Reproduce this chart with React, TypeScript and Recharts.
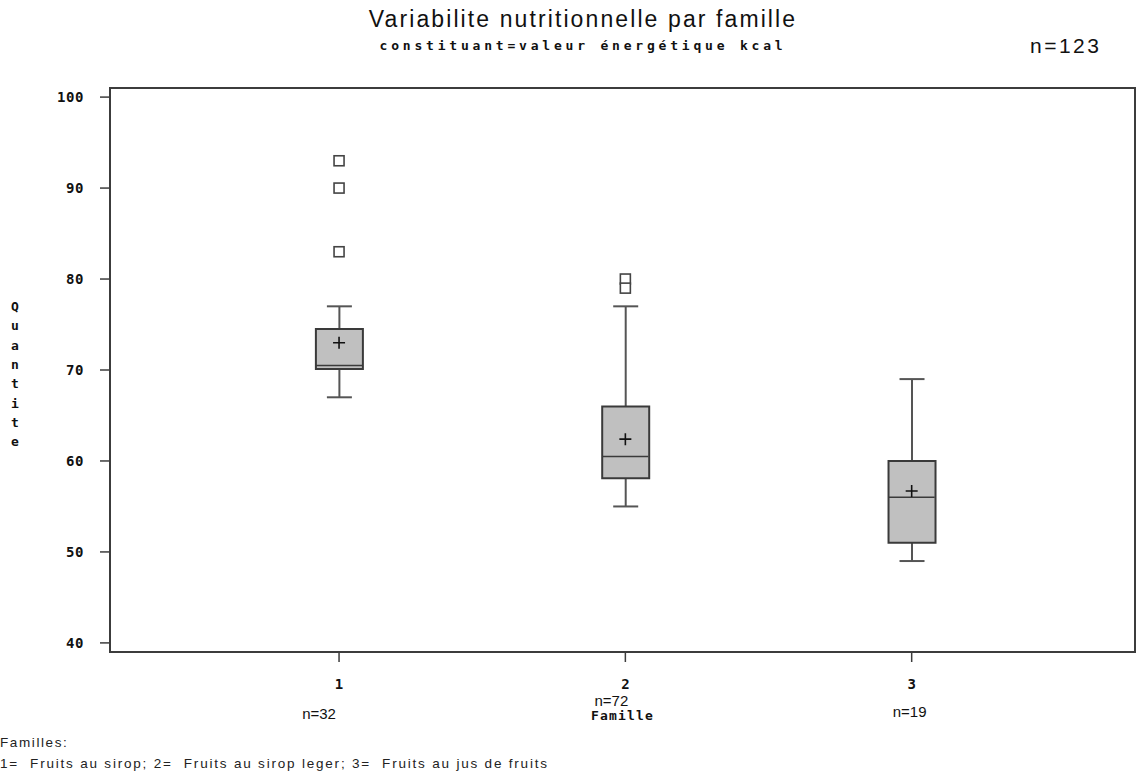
import React from 'react';
import { ComposedChart, Bar, Scatter, XAxis, YAxis, ReferenceArea } from 'recharts';

const categories = [1, 2, 3];
const counts = [32, 72, 19];
const whiskerLow = [67, 55, 49];
const q1 = [70.1, 58.1, 51];
const medians = [70.5, 60.5, 56];
const q3 = [74.5, 66, 60];
const whiskerHigh = [77, 77, 69];
const means = [73, 62.4, 56.7];
const outlierCategory = [1, 1, 1, 2, 2];
const outlierValue = [93, 90, 83, 80, 79];
const yTicks = [40, 50, 60, 70, 80, 90, 100];
const totalN = 123;
const titleText = 'Variabilite nutritionnelle par famille';
const subtitleText = 'constituant=valeur énergétique kcal';
const xAxisTitle = 'Famille';
const yAxisTitle = 'Quantite';
const legendTitle = 'Familles:';
const legendText = '1=  Fruits au sirop; 2=  Fruits au sirop leger; 3=  Fruits au jus de fruits';

const data = categories.map((c, i) => ({
  x: c,
  box: [q1[i], q3[i]],
  upper: [q3[i], whiskerHigh[i]],
  lower: [whiskerLow[i], q1[i]],
  median: medians[i],
  mean: means[i],
}));
const outliers = outlierCategory.map((c, i) => ({ x: c, value: outlierValue[i] }));

const X_DOMAIN: [number, number] = [0.2, 3.78];
const Y_DOMAIN: [number, number] = [39, 101];
const AXIS_COLOR = '#3c3c3c';
const MONO = '"DejaVu Sans Mono", monospace';
const SANS = '"Liberation Sans", Arial, sans-serif';

const UpperWhisker = (p: any) => {
  const cx = p.x + p.width / 2;
  return (
    <g>
      <line x1={cx} y1={p.y} x2={cx} y2={p.y + p.height} stroke="#555" strokeWidth={2} />
      <line x1={p.x} y1={p.y} x2={p.x + p.width} y2={p.y} stroke="#555" strokeWidth={2} />
    </g>
  );
};
const LowerWhisker = (p: any) => {
  const cx = p.x + p.width / 2;
  const yb = p.y + p.height;
  return (
    <g>
      <line x1={cx} y1={p.y} x2={cx} y2={yb} stroke="#555" strokeWidth={2} />
      <line x1={p.x} y1={yb} x2={p.x + p.width} y2={yb} stroke="#555" strokeWidth={2} />
    </g>
  );
};
const MedianShape = (p: any) => (
  <line x1={p.cx - 23} y1={p.cy} x2={p.cx + 23} y2={p.cy} stroke="#3a3a3a" strokeWidth={1.5} />
);
const MeanShape = (p: any) => (
  <path d={`M${p.cx - 6},${p.cy}h12M${p.cx},${p.cy - 6}v12`} stroke="#111" strokeWidth={1.6} fill="none" />
);
const OutlierShape = (p: any) => (
  <rect x={p.cx - 5} y={p.cy - 5} width={10} height={10} fill="#fff" stroke="#444" strokeWidth={1.6} />
);

const nOffsets = [
  { dx: -20, dy: 55 },
  { dx: -14, dy: 42 },
  { dx: -2, dy: 53 },
];

const XTick = (p: any) => {
  const i = p.index;
  const o = nOffsets[i] || { dx: 0, dy: 50 };
  return (
    <g>
      <text x={p.x} y={p.y + 25} textAnchor="middle" fontFamily={MONO} fontWeight="bold" fontSize={14} fill="#111">
        {p.payload.value}
      </text>
      <text x={p.x + o.dx} y={p.y + o.dy} textAnchor="middle" fontFamily={SANS} fontSize={15} fill="#111">
        {`n=${counts[i]}`}
      </text>
    </g>
  );
};

const YTick = (p: any) => (
  <text x={84} y={p.y + 5} textAnchor="end" fontFamily={MONO} fontWeight="bold" fontSize={14} letterSpacing={0.6} fill="#111">
    {p.payload.value}
  </text>
);

export default function App() {
  return (
    <div style={{ position: 'absolute', left: 0, top: 0, width: 1136, height: 773, background: '#fff', overflow: 'hidden' }}>
      <ComposedChart
        width={1136}
        height={773}
        data={data}
        margin={{ top: 88, right: 1, bottom: 91, left: 0 }}
      >
        <XAxis
          dataKey="x"
          type="number"
          domain={X_DOMAIN}
          allowDataOverflow
          ticks={categories}
          tickSize={10}
          tickLine={{ stroke: AXIS_COLOR, strokeWidth: 1.5 }}
          axisLine={{ stroke: AXIS_COLOR, strokeWidth: 2 }}
          tick={<XTick />}
          height={30}
          interval={0}
          label={{
            content: (lp: any) => {
              const vb = lp.viewBox;
              return (
                <text x={vb.x + vb.width / 2} y={720} textAnchor="middle" fontFamily={MONO} fontWeight="bold" fontSize={13} letterSpacing={1.2} fill="#111">
                  {xAxisTitle}
                </text>
              );
            },
          }}
        />
        <XAxis xAxisId="w1" dataKey="x" type="number" domain={X_DOMAIN} allowDataOverflow hide />
        <XAxis xAxisId="w2" dataKey="x" type="number" domain={X_DOMAIN} allowDataOverflow hide />
        <YAxis
          type="number"
          domain={Y_DOMAIN}
          allowDataOverflow
          ticks={yTicks}
          width={110}
          tickSize={10}
          tickLine={{ stroke: AXIS_COLOR, strokeWidth: 1.5 }}
          axisLine={{ stroke: AXIS_COLOR, strokeWidth: 2 }}
          tick={<YTick />}
          interval={0}
          label={{
            content: () => (
              <text fontFamily={MONO} fontWeight="bold" fontSize={13} fill="#111" textAnchor="middle">
                {yAxisTitle.split('').map((ch, i) => (
                  <tspan key={i} x={15} y={311 + i * 19.3}>{ch}</tspan>
                ))}
              </text>
            ),
          }}
        />
        <ReferenceArea x1={X_DOMAIN[0]} x2={X_DOMAIN[1]} y1={Y_DOMAIN[0]} y2={Y_DOMAIN[1]} fill="none" stroke={AXIS_COLOR} strokeWidth={2} ifOverflow="visible" />
        <Bar xAxisId="w1" dataKey="upper" barSize={25} shape={<UpperWhisker />} isAnimationActive={false} />
        <Bar xAxisId="w2" dataKey="lower" barSize={25} shape={<LowerWhisker />} isAnimationActive={false} />
        <Bar dataKey="box" barSize={47} fill="#c0c0c0" stroke="#3a3a3a" strokeWidth={2} isAnimationActive={false} />
        <Scatter dataKey="median" shape={<MedianShape />} isAnimationActive={false} />
        <Scatter dataKey="mean" shape={<MeanShape />} isAnimationActive={false} />
        <Scatter data={outliers} dataKey="value" shape={<OutlierShape />} isAnimationActive={false} />
      </ComposedChart>

      <div style={{ position: 'absolute', left: 0, width: 1136, top: 5, textAlign: 'center', fontFamily: SANS, fontSize: 23, letterSpacing: 2.1, color: '#111', paddingLeft: 30, boxSizing: 'border-box', lineHeight: '28px' }}>
        {titleText}
      </div>
      <div style={{ position: 'absolute', left: 0, width: 1136, top: 38, textAlign: 'center', fontFamily: MONO, fontWeight: 'bold', fontSize: 13, letterSpacing: 3.8, color: '#111', paddingLeft: 30, boxSizing: 'border-box', lineHeight: '16px' }}>
        {subtitleText}
      </div>
      <div style={{ position: 'absolute', left: 1030, top: 33, fontFamily: SANS, fontSize: 21, letterSpacing: 2.5, color: '#111', lineHeight: '26px' }}>
        {`n=${totalN}`}
      </div>
      <div style={{ position: 'absolute', left: 0, top: 735, fontFamily: SANS, fontSize: 13.5, letterSpacing: 1.6, color: '#222', lineHeight: '16px' }}>
        {legendTitle}
      </div>
      <div style={{ position: 'absolute', left: 0, top: 756, fontFamily: SANS, fontSize: 13.5, letterSpacing: 1.8, color: '#222', lineHeight: '16px', whiteSpace: 'pre' }}>
        {legendText}
      </div>
    </div>
  );
}
